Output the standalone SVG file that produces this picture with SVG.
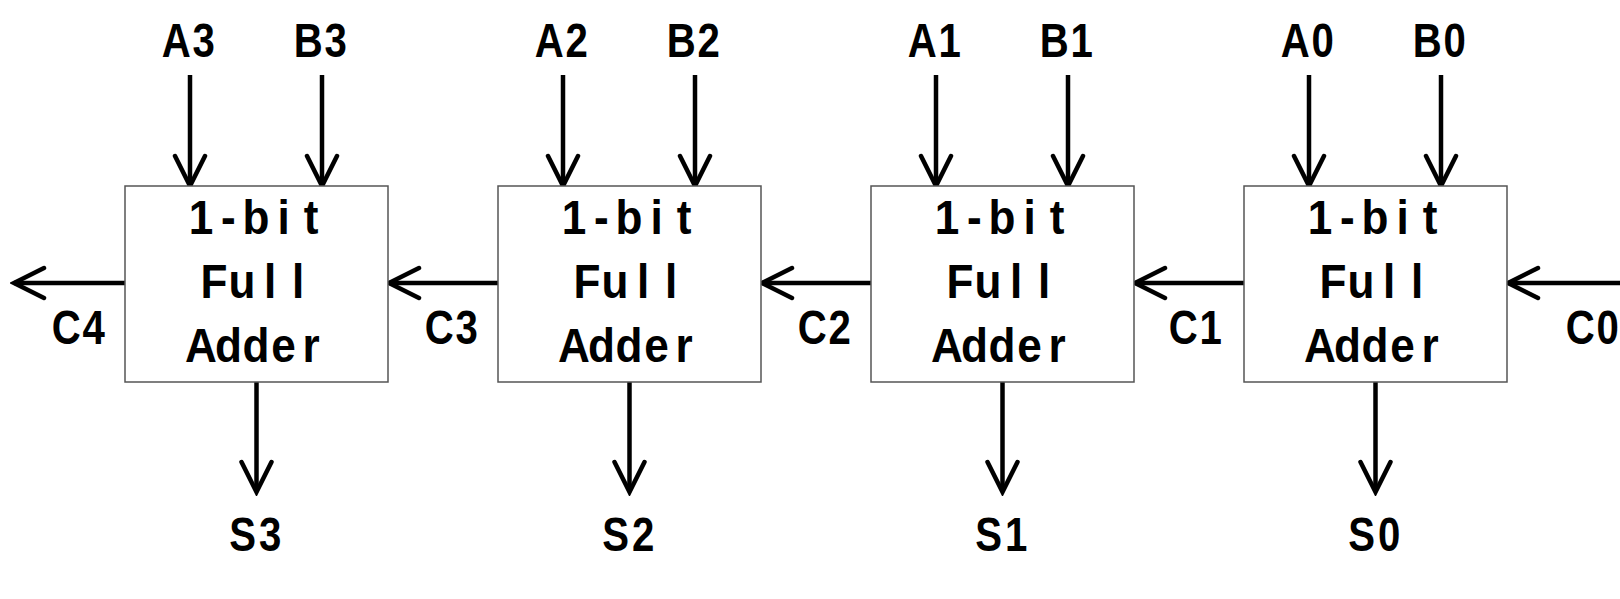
<svg xmlns="http://www.w3.org/2000/svg" width="1620" height="599" viewBox="0 0 1620 599">
<defs>
<style>
.box{fill:#fff;stroke:#555;stroke-width:1.5}
.wire{fill:none;stroke:#000;stroke-width:4.5;marker-end:url(#ah)}
text{font-family:"Liberation Sans",Arial,sans-serif;font-size:49px;font-weight:bold;fill:#000;text-anchor:middle}
</style>
<marker id="ah" markerUnits="userSpaceOnUse" viewBox="-34 -18 38 36" refX="0" refY="0" markerWidth="38" markerHeight="36" orient="auto">
<path d="M-30,-15 L0,0 L-30,15" fill="none" stroke="#000" stroke-width="4.5" stroke-linecap="round" stroke-linejoin="miter"/>
</marker>
</defs>
<rect width="1620" height="599" fill="#fff"/>
<g id="connectors">
<path class="wire" d="M190,75 V186"/><path class="wire" d="M322,75 V186"/>
<path class="wire" d="M563,75 V186"/><path class="wire" d="M695,75 V186"/>
<path class="wire" d="M936,75 V186"/><path class="wire" d="M1068,75 V186"/>
<path class="wire" d="M1309,75 V186"/><path class="wire" d="M1441,75 V186"/>
<path class="wire" d="M256.5,382 V492"/><path class="wire" d="M629.5,382 V492"/>
<path class="wire" d="M1002.5,382 V492"/><path class="wire" d="M1375.5,382 V492"/>
<path class="wire" d="M125,283 H14"/><path class="wire" d="M498,283 H389"/>
<path class="wire" d="M871,283 H762"/><path class="wire" d="M1244,283 H1135"/>
<path class="wire" d="M1620,283 H1508"/>
</g>
<g id="fa3"><rect class="box" x="125" y="186" width="263" height="196"/>
<g transform="translate(256,0) scale(0.9,1)">
<text x="-61.1 -30.6 0 30.6 61.1" y="234">1-bit</text>
<text x="-46.7 -15.6 15.6 46.7" y="298">Full</text>
<text x="-61.1 -30.6 0 30.6 61.1" y="362">Adder</text></g></g>
<g id="fa2"><rect class="box" x="498" y="186" width="263" height="196"/>
<g transform="translate(629,0) scale(0.9,1)">
<text x="-61.1 -30.6 0 30.6 61.1" y="234">1-bit</text>
<text x="-46.7 -15.6 15.6 46.7" y="298">Full</text>
<text x="-61.1 -30.6 0 30.6 61.1" y="362">Adder</text></g></g>
<g id="fa1"><rect class="box" x="871" y="186" width="263" height="196"/>
<g transform="translate(1002,0) scale(0.9,1)">
<text x="-61.1 -30.6 0 30.6 61.1" y="234">1-bit</text>
<text x="-46.7 -15.6 15.6 46.7" y="298">Full</text>
<text x="-61.1 -30.6 0 30.6 61.1" y="362">Adder</text></g></g>
<g id="fa0"><rect class="box" x="1244" y="186" width="263" height="196"/>
<g transform="translate(1375,0) scale(0.9,1)">
<text x="-61.1 -30.6 0 30.6 61.1" y="234">1-bit</text>
<text x="-46.7 -15.6 15.6 46.7" y="298">Full</text>
<text x="-61.1 -30.6 0 30.6 61.1" y="362">Adder</text></g></g>
<g id="labels">
<text transform="translate(190,57) scale(0.82,1)" x="-16.8 16.8" y="0">A3</text>
<text transform="translate(322,57) scale(0.82,1)" x="-16.8 16.8" y="0">B3</text>
<text transform="translate(563,57) scale(0.82,1)" x="-16.8 16.8" y="0">A2</text>
<text transform="translate(695,57) scale(0.82,1)" x="-16.8 16.8" y="0">B2</text>
<text transform="translate(936,57) scale(0.82,1)" x="-16.8 16.8" y="0">A1</text>
<text transform="translate(1068,57) scale(0.82,1)" x="-16.8 16.8" y="0">B1</text>
<text transform="translate(1309,57) scale(0.82,1)" x="-16.8 16.8" y="0">A0</text>
<text transform="translate(1441,57) scale(0.82,1)" x="-16.8 16.8" y="0">B0</text>
<text transform="translate(256.5,551) scale(0.82,1)" x="-16.8 16.8" y="0">S3</text>
<text transform="translate(629.5,551) scale(0.82,1)" x="-16.8 16.8" y="0">S2</text>
<text transform="translate(1002.5,551) scale(0.82,1)" x="-16.8 16.8" y="0">S1</text>
<text transform="translate(1375.5,551) scale(0.82,1)" x="-16.8 16.8" y="0">S0</text>
<text transform="translate(80,344) scale(0.82,1)" x="-16.8 16.8" y="0">C4</text>
<text transform="translate(453,344) scale(0.82,1)" x="-16.8 16.8" y="0">C3</text>
<text transform="translate(826,344) scale(0.82,1)" x="-16.8 16.8" y="0">C2</text>
<text transform="translate(1197,344) scale(0.82,1)" x="-16.8 16.8" y="0">C1</text>
<text transform="translate(1594,344) scale(0.82,1)" x="-16.8 16.8" y="0">C0</text>
</g>
</svg>
